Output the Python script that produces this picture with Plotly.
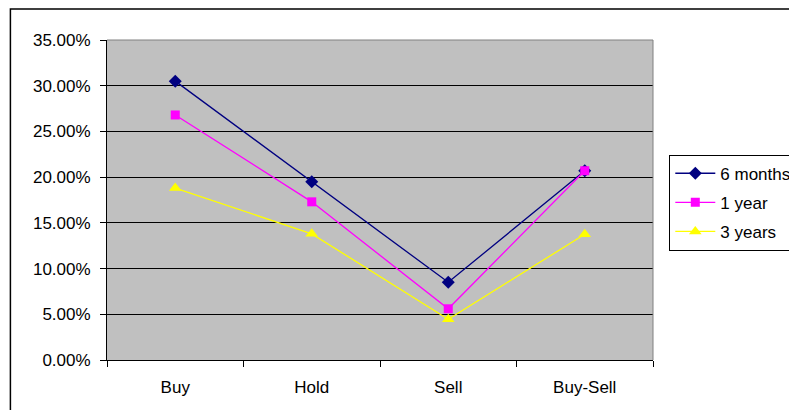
import plotly.graph_objects as go

categories = ["Buy", "Hold", "Sell", "Buy-Sell"]
six_months = [0.305, 0.195, 0.085, 0.207]
one_year = [0.268, 0.173, 0.056, 0.207]
three_years = [0.188, 0.138, 0.0445, 0.1375]
series_names = ["6 months", "1 year", "3 years"]
y_ticks = [0, 0.05, 0.10, 0.15, 0.20, 0.25, 0.30, 0.35]

FONT = "Liberation Sans, Arial, sans-serif"

fig = go.Figure()
styles = [
    (six_months, "#000080", "diamond", 10),
    (one_year, "#FF00FF", "square", 9),
    (three_years, "#FFFF00", "triangle-up", 11),
]
for name, (vals, color, sym, size) in zip(series_names, styles):
    fig.add_trace(go.Scatter(
        x=categories, y=vals, name=name, legendgroup=name,
        mode="lines+markers",
        line=dict(color=color, width=1.3),
        marker=dict(color=color, symbol=sym, size=size),
    ))

# page has an 8px body margin; figure coords = page coords - 8
W, H = 789, 402
L, T = 98.7, 32
plot_right, plot_bottom = 645.3, 351.7
R, B = W - plot_right, H - plot_bottom
pw = plot_right - L
ph = plot_bottom - T

fig.update_layout(
    width=W, height=H,
    margin=dict(l=L, r=R, t=T, b=B, pad=0),
    paper_bgcolor="white",
    plot_bgcolor="#C0C0C0",
    font=dict(family=FONT, size=17, color="black"),
    showlegend=True,
    legend=dict(
        xref="container", yref="container",
        x=661.3 / W, y=1 - 146.7 / H,
        xanchor="left", yanchor="top",
        bgcolor="white", bordercolor="black", borderwidth=1,
        font=dict(family=FONT, size=17, color="black"),
        itemwidth=40, traceorder="grouped", tracegroupgap=4,
    ),
    xaxis=dict(
        type="category", categoryorder="array", categoryarray=categories,
        showgrid=False, zeroline=False,
        showline=True, linecolor="black", linewidth=1,
        ticks="outside", tickson="boundaries", ticklen=6, tickcolor="black",
        ticklabelstandoff=12,
        range=[-0.5, 3.5],
    ),
    yaxis=dict(
        range=[0, 0.35], tickvals=y_ticks, tickformat=".2%",
        showgrid=True, gridcolor="black", gridwidth=1,
        zeroline=False,
        showline=True, linecolor="black", linewidth=1,
        ticks="outside", ticklen=6, tickcolor="black",
        ticklabelstandoff=6,
    ),
    shapes=[
        dict(type="line", xref="paper", yref="paper", x0=0, x1=1, y0=1, y1=1,
             line=dict(color="#808080", width=1)),
        dict(type="line", xref="paper", yref="paper", x0=1, x1=1, y0=0, y1=1,
             line=dict(color="#808080", width=1)),
        dict(type="rect", xref="paper", yref="paper",
             x0=(2 - L) / pw, x1=1.4, y0=-0.3, y1=(plot_bottom - 1) / ph,
             line=dict(color="black", width=1.5), fillcolor="rgba(0,0,0,0)",
             layer="below"),
    ],
)

fig.write_html("out.html")
